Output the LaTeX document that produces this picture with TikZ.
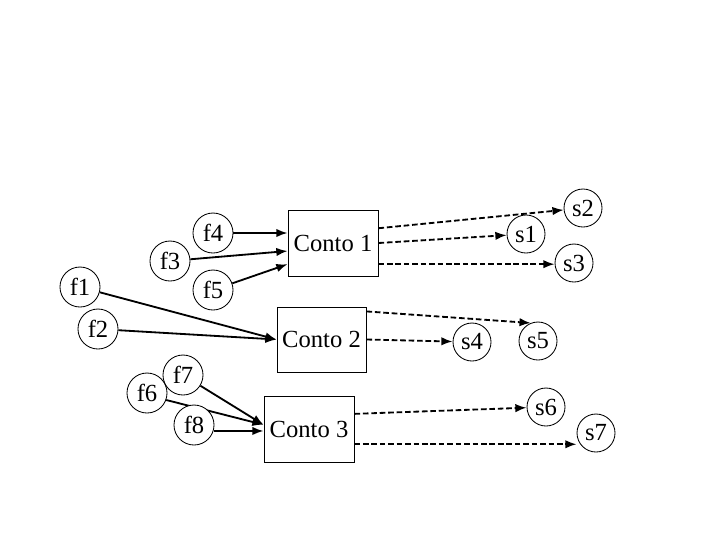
\documentclass[tikz,border=0pt]{standalone}
\usepackage{fontspec}
\setmainfont{Liberation Serif}
\usetikzlibrary{arrows.meta,backgrounds}

\tikzset{
  fnode/.style={circle,draw,line width=0.6pt,fill=white,minimum size=1cm,inner sep=0pt},
  snode/.style={circle,draw,line width=0.6pt,fill=white,minimum size=0.95cm,inner sep=0pt},
  conto/.style={rectangle,draw,line width=0.6pt,fill=white,minimum width=2.25cm,minimum height=1.65cm},
  flow/.style={line width=1.3pt,-{Latex[length=8pt,width=6pt]}},
  dflow/.style={line width=1.3pt,dash pattern=on 4pt off 2pt,-{Latex[length=8pt,width=6pt]}}
}

\begin{document}
\begin{tikzpicture}[x=0.025cm,y=-0.025cm,font=\fontsize{17.5}{20}\selectfont]
\useasboundingbox (0,0) rectangle (720,540);

\node[conto] (c1) at (333,243) {Conto 1};
\node[conto,minimum width=2.225cm,minimum height=1.625cm] (c2) at (321.5,339.5) {Conto 2};
\node[conto] (c3) at (309,429.5) {Conto 3};

\node[fnode] (f1) at (80,287) {f1};
\node[fnode] (f2) at (98,329) {f2};
\node[fnode] (f3) at (170,261) {f3};
\node[fnode] (f4) at (213,233) {f4};
\node[fnode] (f5) at (213,290) {f5};
\node[fnode] (f6) at (147,393) {f6};
\node[fnode] (f7) at (183,375) {f7};
\node[fnode] (f8) at (194,425) {f8};

\node[snode] (s1) at (526,234) {s1};
\node[snode] (s2) at (583,208) {s2};
\node[snode] (s3) at (574,263) {s3};
\node[snode] (s4) at (472,342) {s4};
\node[snode] (s5) at (538,341) {s5};
\node[snode] (s6) at (546,407) {s6};
\node[snode] (s7) at (596,433) {s7};

\begin{scope}[on background layer]
\draw[flow] (f4) -- (f4 -| c1.west);
\draw[flow] (f3) -- (c1.190);
\draw[flow] (f5) -- (c1.205);
\draw[flow] (f1) -- (c2.west);
\draw[flow] (f2) -- (c2.west);
\draw[flow] (f7) -- (c3.174);
\draw[flow] (f6.-20) -- (c3.174);
\draw[flow] (f8.-17) -- (f8.-17 -| c3.west);

\draw[dflow] (c1.18) -- (s2);
\draw[dflow] (c1.east) -- (s1);
\draw[dflow] (c1.-25) -- (c1.-25 -| s3.west);
\draw[dflow] (c2.32) -- (s5.112);
\draw[dflow] (c2.east) -- (s4);
\draw[dflow] (c3.19) -- (s6);
\draw[dflow] (c3.-18) -- (c3.-18 -| s7.west);
\end{scope}
\end{tikzpicture}
\end{document}
